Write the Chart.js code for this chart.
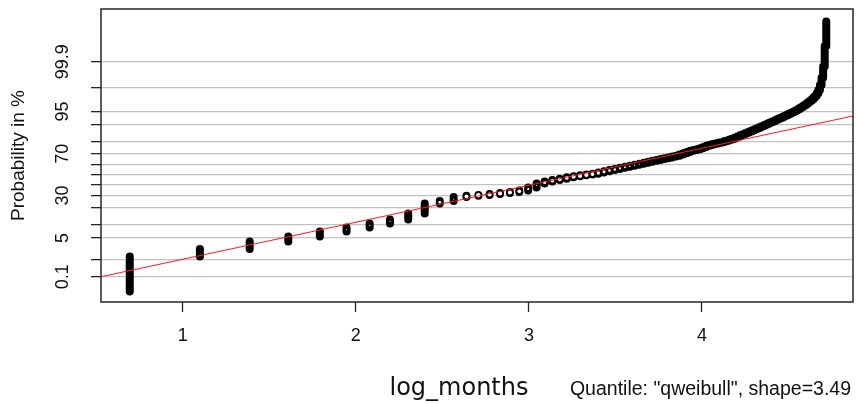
<!DOCTYPE html>
<html>
<head>
<meta charset="utf-8">
<script src="https://cdn.jsdelivr.net/npm/chart.js@4/dist/chart.umd.min.js"></script>
<style>
html,body{margin:0;padding:0;background:#fff;}
#wrap{width:857px;height:404px;}
canvas{display:block;}
</style>
</head>
<body>
<div id="wrap"><canvas id="c" width="857" height="404"></canvas></div>
<script>
// ---- data ----
const SHAPE = 3.49;                       // Weibull shape of the probability scale
const months = [
  2,3,4,5,6,7,8,9,10,11,12,13,14,15,16,17,18,19,20,21,
  22,23,24,25,26,27,28,29,30,31,32,33,34,35,36,37,38,39,40,41,
  42,43,44,45,46,47,48,49,50,51,52,53,54,55,56,57,58,59,60,61,
  62,63,64,65,66,67,68,69,70,71,72,73,74,75,76,77,78,79,80,81,
  82,83,84,85,86,87,88,89,90,91,92,93,94,95,96,97,98,99,100,101,
  102,103,104,105,106,107,108,109,110,111,112
];
// cumulative probability (%) reached at the top of each month's stack of points
const cumPct = [
  1.31,2.41,4.03,5.46,7.19,8.81,10.65,12.73,16.27,23.33,25.31,28.63,29.76,30.36,31.25,32.13,33.04,34.40,37.21,41.05,
  43.01,44.49,45.80,47.29,48.24,49.12,49.97,50.78,52.03,53.25,54.41,55.55,56.64,57.71,58.74,59.73,60.70,61.63,62.53,63.41,
  64.26,65.07,65.88,66.65,67.40,68.12,69.29,70.40,71.51,72.58,73.18,73.78,74.77,75.74,76.68,77.34,78.07,78.55,79.03,79.48,
  80.07,80.71,81.35,82.01,82.74,83.44,84.19,84.84,85.46,86.08,86.67,87.23,87.79,88.31,88.83,89.32,89.79,90.26,90.69,91.12,
  91.52,91.92,92.29,92.65,93.00,93.34,93.65,93.96,94.25,94.54,94.81,95.09,95.36,95.63,95.90,96.16,96.42,96.67,96.93,97.17,
  97.41,97.65,97.90,98.15,98.455,98.79,99.169,99.548,99.841,99.983,99.9994
];
const lowestPct = 0.0004;                 // lowest plotted probability (bottom of first stack)
const probTicks = [0.1, 1, 5, 10, 20, 30, 40, 50, 60, 70, 80, 90, 95, 99, 99.9];
const probLabelsShown = ['0.1', '5', '30', '70', '95', '99.9'];
const xTicks = [1, 2, 3, 4];
const fitX = [0.527, 4.873];              // fitted reference line (log_months)
const fitPct = [0.1, 93.59];              // fitted reference line (probability %)
const xLabel = 'log_months';
const yLabel = 'Probability in %';
const noteText = 'Quantile: "qweibull", shape=3.49';

// ---- probability-scale transform ----
function qw(pct) { return Math.pow(-Math.log(1 - pct / 100), 1 / SHAPE); }

const stackPts = [];
const hollowPts = [];
months.forEach((m, i) => {
  const lo = qw(i === 0 ? lowestPct : cumPct[i - 1]);
  const hi = qw(cumPct[i]);
  const x = Math.log(m);
  stackPts.push({x: x, y: lo}, {x: x, y: hi}, {x: x, y: null});
  hollowPts.push({x: x, y: (lo + hi) / 2, lo: lo, hi: hi});
});
const fitPts = fitX.map((x, i) => ({x: x, y: qw(fitPct[i])}));

// open-circle look: white centre where no circle outline passes
const R_OUT = 4.0, R_IN = 2.6;
function hollowRadius(ctx) {
  const raw = ctx.raw;
  const xs = ctx.chart.scales.x, ys = ctx.chart.scales.y;
  if (!raw || !xs || !ys) return 0;
  const px = xs.getPixelForValue(raw.x), py = ys.getPixelForValue(raw.y);
  let rho = Infinity;
  for (const o of hollowPts) {
    const ox = xs.getPixelForValue(o.x);
    const dx = ox - px;
    if (Math.abs(dx) > 12) continue;
    const y1 = ys.getPixelForValue(o.lo), y2 = ys.getPixelForValue(o.hi);
    const top = Math.min(y1, y2), bot = Math.max(y1, y2);
    const dyMin = py < top ? top - py : (py > bot ? py - bot : 0);
    const dyMax = Math.max(Math.abs(py - top), Math.abs(py - bot));
    const dmin = Math.hypot(dx, dyMin), dmax = Math.hypot(dx, dyMax);
    rho = Math.min(rho, Math.max(R_IN - dmax, dmin - R_OUT));
  }
  return rho > 0.45 ? rho : 0;
}

const FONT = "'Liberation Sans', Arial, sans-serif";

const decor = {
  id: 'decor',
  afterDatasetsDraw(chart) {
    const {ctx, chartArea: a} = chart;
    ctx.save();
    ctx.strokeStyle = '#262626';
    ctx.lineWidth = 1.5;
    ctx.strokeRect(a.left, a.top, a.right - a.left, a.bottom - a.top);
    ctx.restore();
  },
  afterDraw(chart) {
    const {ctx, chartArea: a} = chart;
    ctx.save();
    ctx.fillStyle = '#111';
    ctx.textBaseline = 'alphabetic';
    ctx.font = "24px 'DejaVu Sans', sans-serif";
    ctx.textAlign = 'center';
    ctx.fillText(xLabel, (a.left + a.right) / 2 - 18, 395);
    ctx.font = "19.5px " + FONT;
    ctx.textAlign = 'right';
    ctx.fillText(noteText, a.right - 2, 395);
    ctx.restore();
  }
};

new Chart(document.getElementById('c'), {
  type: 'line',
  data: {
    datasets: [
      { type: 'line', label: 'fit', data: fitPts, borderColor: '#ff1a1a', borderWidth: 1,
        pointRadius: 0, tension: 0, order: 0 },
      { type: 'scatter', label: 'hollow', data: hollowPts, pointRadius: hollowRadius,
        pointBackgroundColor: '#ffffff', pointBorderWidth: 0, pointBorderColor: 'rgba(0,0,0,0)',
        showLine: false, order: 1 },
      { type: 'line', label: 'points', data: stackPts, borderColor: '#000', borderWidth: 2 * R_OUT,
        borderCapStyle: 'round', borderJoinStyle: 'round', pointRadius: 0, spanGaps: false,
        tension: 0, order: 2 }
    ]
  },
  options: {
    responsive: false,
    animation: false,
    events: [],
    layout: { padding: { left: 0, right: 4, top: 9, bottom: 0 } },
    plugins: { legend: { display: false }, tooltip: { enabled: false } },
    scales: {
      x: {
        type: 'linear', min: 0.527, max: 4.873,
        afterBuildTicks: s => { s.ticks = xTicks.map(v => ({value: v})); },
        ticks: { autoSkip: false, maxRotation: 0, padding: 13, color: '#111',
                 font: { family: FONT, size: 18 }, callback: v => String(v) },
        grid: { drawOnChartArea: false, drawTicks: true, tickLength: 10, tickColor: '#262626', tickWidth: 1.3 },
        border: { display: false },
        afterFit: s => { s.height = 102; s.paddingLeft = 0; s.paddingRight = 0; }
      },
      y: {
        type: 'linear', min: -0.050, max: 2.133,
        afterBuildTicks: s => { s.ticks = probTicks.map(p => ({value: qw(p)})); },
        ticks: { autoSkip: false, minRotation: 90, maxRotation: 90, crossAlign: 'center', padding: 10,
                 color: '#111', font: { family: FONT, size: 18 },
                 callback: (v, i) => probLabelsShown.includes(String(probTicks[i])) ? String(probTicks[i]) : '' },
        grid: { color: '#c2c2c2', lineWidth: 1.3, tickLength: 10, tickColor: '#262626', tickWidth: 1.3 },
        border: { display: false },
        title: { display: true, text: yLabel, color: '#111', font: { family: FONT, size: 19 },
                 padding: { top: 7, bottom: 0 } },
        afterFit: s => { s.width = 101; s.paddingTop = 0; s.paddingBottom = 0; }
      }
    }
  },
  plugins: [decor]
});
</script>
</body>
</html>
